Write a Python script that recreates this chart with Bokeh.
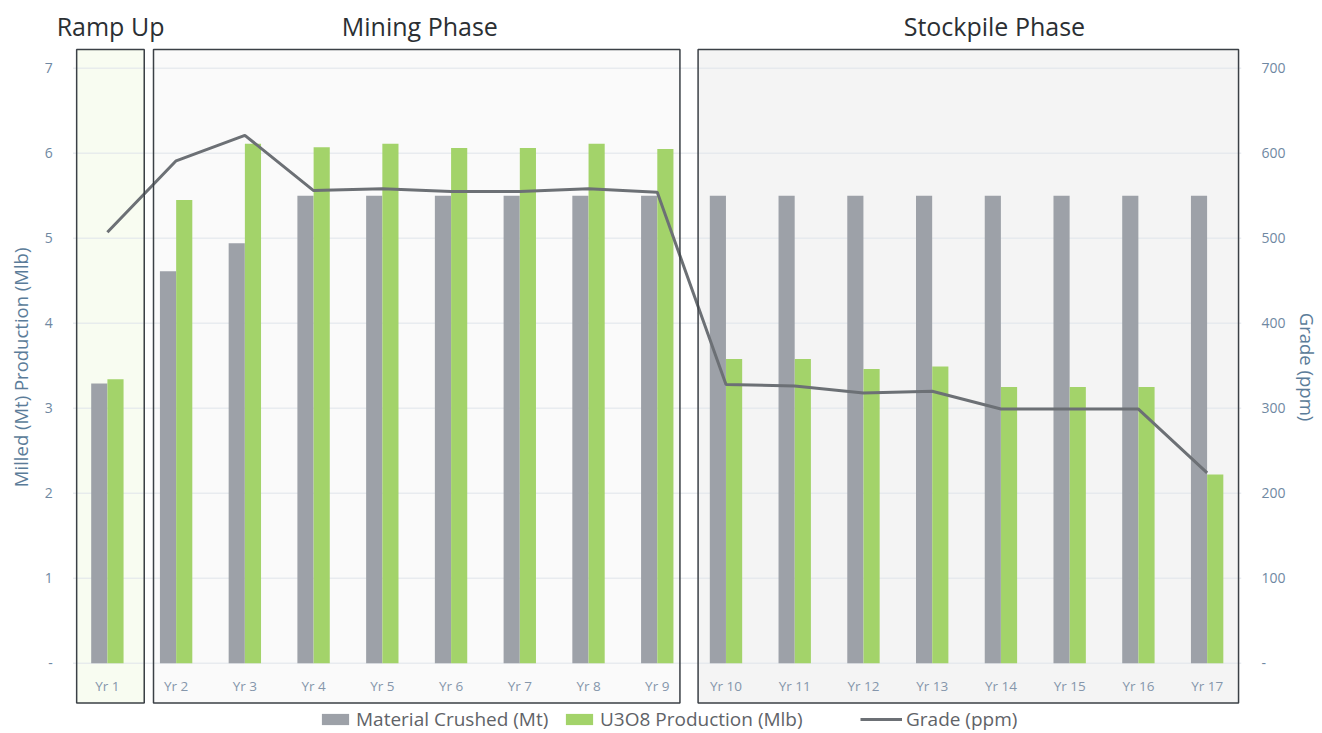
import math
from bokeh.plotting import figure
from bokeh.models import (Range1d, LinearAxis, FixedTicker, Legend, LegendItem,
                          ColumnDataSource)
from bokeh.core.properties import value
from bokeh.embed import file_html
from bokeh.resources import INLINE

# ---- data ----
years = ["Yr 1", "Yr 2", "Yr 3", "Yr 4", "Yr 5", "Yr 6", "Yr 7", "Yr 8", "Yr 9",
         "Yr 10", "Yr 11", "Yr 12", "Yr 13", "Yr 14", "Yr 15", "Yr 16", "Yr 17"]
material_crushed = [3.29, 4.61, 4.94, 5.5, 5.5, 5.5, 5.5, 5.5, 5.5,
                    5.5, 5.5, 5.5, 5.5, 5.5, 5.5, 5.5, 5.5]
u3o8_production = [3.34, 5.45, 6.11, 6.07, 6.11, 6.06, 6.06, 6.11, 6.05,
                   3.58, 3.58, 3.46, 3.49, 3.25, 3.25, 3.25, 2.22]
grade_ppm = [507, 591, 621, 556, 558, 555, 555, 558, 554,
             328, 326, 318, 320, 299, 299, 299, 224]
left_ticks = [0, 1, 2, 3, 4, 5, 6, 7]
left_tick_labels = ["-", "1", "2", "3", "4", "5", "6", "7"]
right_ticks = [0, 100, 200, 300, 400, 500, 600, 700]
phases = ["Ramp Up", "Mining Phase", "Stockpile Phase"]
phase_first = [1, 2, 10]
phase_last = [1, 9, 17]

FONT = "Open Sans"
x = list(range(1, len(years) + 1))

Y0, Y1 = -0.827, 7.796
p = figure(width=1322, height=733, output_backend="svg", toolbar_location=None,
           x_range=Range1d(-0.555, 17.5), y_range=Range1d(Y0, Y1),
           min_border_left=0, min_border_right=78, min_border_top=0, min_border_bottom=0,
           outline_line_color=None, background_fill_color="white")
p.xaxis.visible = False
p.yaxis.visible = False
p.xgrid.visible = False
p.ygrid.visible = False

# right axis
p.extra_y_ranges = {"grade": Range1d(Y0 * 100, Y1 * 100)}
ra = LinearAxis(y_range_name="grade", ticker=FixedTicker(ticks=right_ticks))
ra.major_label_overrides = {0: "-"}
ra.axis_line_color = None
ra.major_tick_line_color = None
ra.minor_tick_line_color = None
ra.major_label_text_color = "#6f88a2"
ra.major_label_text_font = FONT
ra.major_label_text_font_size = "14px"
ra.major_label_standoff = 14
ra.axis_label = "Grade (ppm)"
ra.axis_label_text_font = FONT
ra.axis_label_text_font_style = "normal"
ra.axis_label_text_font_size = "18.5px"
ra.axis_label_text_color = "#5b7c99"
ra.axis_label_standoff = 6
p.add_layout(ra, "right")

# left axis (drawn as text so the frame can reach the left edge)
p.text(x=[0.205] * len(left_ticks), y=left_ticks, text=left_tick_labels,
       text_align="right", text_baseline="middle", text_font=value(FONT),
       text_font_size="14px", text_color="#6f88a2")
p.text(x=[-0.26], y=[3.48], text=["Milled (Mt) Production (Mlb)"], angle=math.pi / 2,
       text_align="center", text_baseline="middle", text_font=value(FONT),
       text_font_size="18.5px", text_color="#5b7c99")

# phase boxes
box_left = [phase_first[0] - 0.447, phase_first[1] - 0.329, phase_first[2] - 0.406]
box_right = [phase_last[0] + 0.536, phase_last[1] + 0.330, phase_last[2] + 0.457]
box_fill = ["#f8fcf1", "#fafafa", "#f4f4f4"]
box_src = ColumnDataSource(dict(left=box_left, right=box_right,
                                top=[7.22] * 3, bottom=[-0.467] * 3, fill=box_fill))
p.quad(left="left", right="right", top="top", bottom="bottom", source=box_src,
       fill_color="fill", line_color=None)

# gridlines
p.segment(x0=[0.5] * len(left_ticks), x1=[17.5] * len(left_ticks), y0=left_ticks,
          y1=left_ticks, line_color="#dfe4ea", line_width=1)

# bars
w = 0.235
r_mat = p.vbar(x=[v - 0.118 for v in x], top=material_crushed, bottom=0, width=w,
               fill_color="#9da1a8", line_color=None)
r_u = p.vbar(x=[v + 0.118 for v in x], top=u3o8_production, bottom=0, width=w,
             fill_color="#a3d36a", line_color=None)

# grade line
r_g = p.line(x=x, y=grade_ppm, y_range_name="grade", line_color="#6c7075", line_width=3)

# box borders
p.quad(left="left", right="right", top="top", bottom="bottom", source=box_src,
       fill_color=None, line_color="#3b4046", line_width=1.5)

# category labels
p.text(x=x, y=[-0.27] * len(x), text=years, text_align="center", text_baseline="middle",
       text_font=value(FONT), text_font_size="13.5px", text_color="#8596ab")

# phase titles
title_x = [1.046, 5.546, 13.905]
p.text(x=title_x, y=[7.50] * 3, text=phases, text_align="center", text_baseline="middle",
       text_font=value(FONT), text_font_size="25px", text_color="#2b2f33")

def mk_legend(label, rend, loc, gw):
    return Legend(items=[LegendItem(label=label, renderers=[rend])],
                  orientation="horizontal", location=loc,
                  glyph_width=gw, glyph_height=14, label_standoff=4, spacing=0,
                  padding=0, margin=0, background_fill_alpha=0, border_line_color=None,
                  label_text_font=FONT, label_text_font_size="19px",
                  label_text_color="#5f6368")

# legend locations are in frame pixels (frame starts at the figure's left edge)
p.add_layout(mk_legend("Material Crushed (Mt)", r_mat, (318, 1), 34), "center")
p.add_layout(mk_legend("U3O8 Production (Mlb)", r_u, (562, 1), 34), "center")
p.add_layout(mk_legend("Grade (ppm)", r_g, (860, 1), 42), "center")

open("out.html", "w").write(file_html(p, INLINE))
